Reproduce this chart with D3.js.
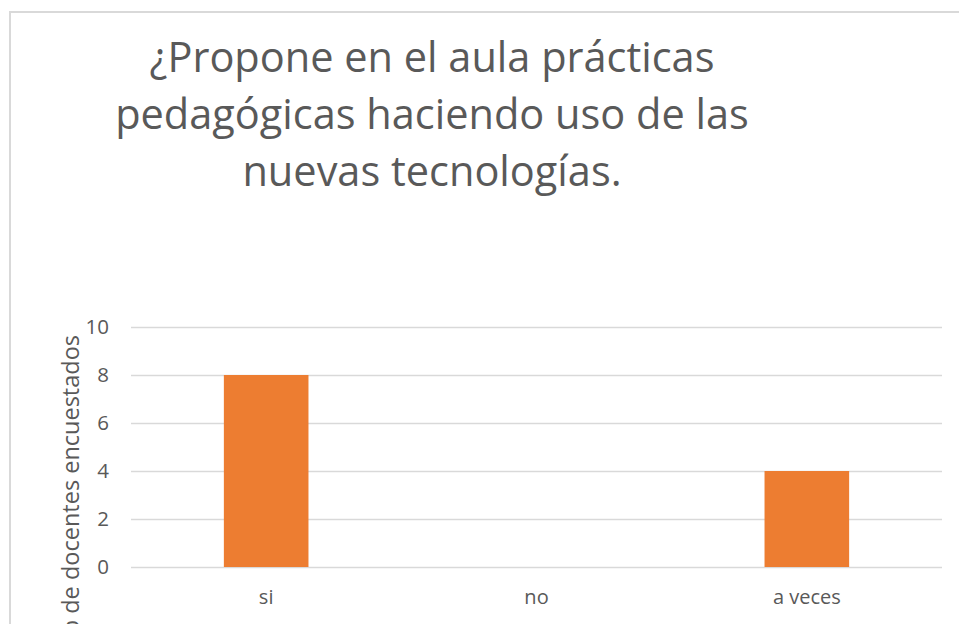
<!DOCTYPE html>
<html lang="es">
<head>
<meta charset="UTF-8">
<title>¿Propone en el aula prácticas pedagógicas haciendo uso de las nuevas tecnologías.</title>
<script src="https://d3js.org/d3.v7.min.js"></script>
<style>
  body { margin: 0; background: #fff; }
  svg { display: block; font-family: "Open Sans", sans-serif; }
</style>
</head>
<body>
<div id="chart"></div>
<script>
// data
const categories = ["si", "no", "a veces"];
const values = [8, 0, 4];
const yTicks = [0, 2, 4, 6, 8, 10];
const titleLines = ["¿Propone en el aula prácticas", "pedagógicas haciendo uso de las", "nuevas tecnologías."];
const yLabel = "Número de docentes encuestados";

const width = 959, height = 624;
const margin = { top: 327, right: 17, bottom: 57, left: 131 };
const textColor = "#595959";

const svg = d3.select("#chart").append("svg")
    .attr("width", width)
    .attr("height", height);

// chart frame (runs off the right and bottom)
svg.append("rect")
    .attr("x", 10).attr("y", 12)
    .attr("width", 1000).attr("height", 700)
    .attr("fill", "#fff")
    .attr("stroke", "#d9d9d9")
    .attr("stroke-width", 2);

const x = d3.scaleBand()
    .domain(categories)
    .range([margin.left, width - margin.right])
    .paddingInner(0.687)
    .paddingOuter(0.3435);

const y = d3.scaleLinear()
    .domain([0, 10])
    .range([height - margin.bottom, margin.top]);

// gridlines
svg.append("g")
    .selectAll("line")
    .data(yTicks)
    .join("line")
    .attr("x1", margin.left)
    .attr("x2", width - margin.right)
    .attr("y1", d => y(d) + 0.5)
    .attr("y2", d => y(d) + 0.5)
    .attr("stroke", "#d9d9d9")
    .attr("stroke-width", 1.3);

// bars
svg.append("g")
    .selectAll("rect")
    .data(values)
    .join("rect")
    .attr("x", (d, i) => x(categories[i]))
    .attr("y", d => y(d))
    .attr("width", x.bandwidth())
    .attr("height", d => y(0) - y(d))
    .attr("fill", "#ed7d31");

// y axis
const yAxis = svg.append("g")
    .attr("transform", `translate(${margin.left},0)`)
    .call(d3.axisLeft(y).tickValues(yTicks).tickSize(0).tickPadding(22));
yAxis.select(".domain").remove();
yAxis.selectAll("text")
    .attr("fill", textColor)
    .attr("font-size", 20.5)
    .attr("font-family", "Open Sans, sans-serif");

// x axis
const xAxis = svg.append("g")
    .attr("transform", `translate(0,${y(0)})`)
    .call(d3.axisBottom(x).tickSize(0).tickPadding(23));
xAxis.select(".domain").remove();
xAxis.selectAll("text")
    .attr("fill", textColor)
    .attr("font-size", 20)
    .attr("font-family", "Open Sans, sans-serif");

// title
svg.append("text")
    .attr("text-anchor", "middle")
    .attr("fill", textColor)
    .attr("font-size", 41.5)
    .selectAll("tspan")
    .data(titleLines)
    .join("tspan")
    .attr("x", 432)
    .attr("y", (d, i) => 72 + i * 57)
    .text(d => d);

// y axis title (clipped by the window, as in the original)
svg.append("text")
    .attr("transform", "translate(79,335) rotate(-90)")
    .attr("text-anchor", "end")
    .attr("fill", textColor)
    .attr("font-size", 23.5)
    .text(yLabel);
</script>
</body>
</html>
